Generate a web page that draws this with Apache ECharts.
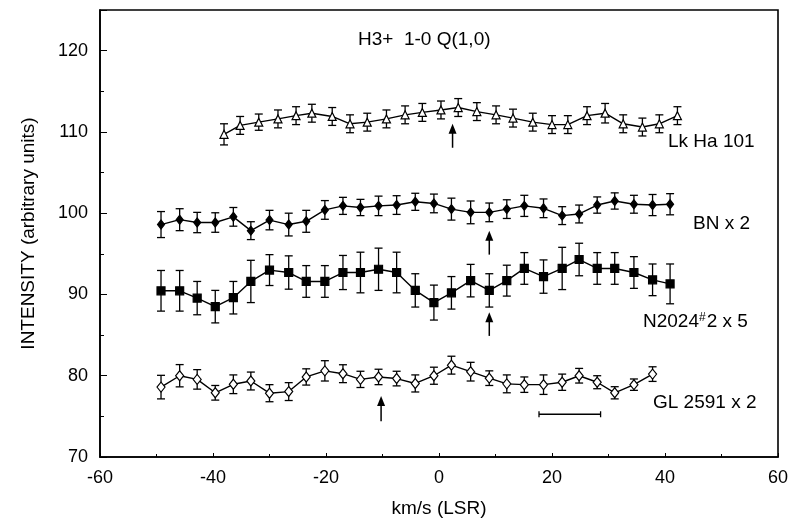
<!DOCTYPE html>
<html>
<head>
<meta charset="utf-8">
<script src="https://cdn.jsdelivr.net/npm/echarts@6/dist/echarts.min.js"></script>
<style>html,body{margin:0;padding:0;background:#fff}#c{width:794px;height:526px}</style>
</head>
<body>
<div id="c"></div>
<script>
// ---------- data ----------
const xTicks = [-60, -40, -20, 0, 20, 40, 60];
const yTicks = [70, 80, 90, 100, 110, 120];

const lkX = [-38.05,-35.2,-31.9,-28.5,-25.3,-22.5,-18.9,-15.75,-12.7,-9.3,-6.0,-2.95,0.35,3.4,6.7,10.1,13.1,16.6,20.0,22.8,26.2,29.4,32.6,36.0,39.0,42.2];
const lkY = [109.7,110.8,111.2,111.6,112.0,112.3,111.9,111.0,111.2,111.6,112.1,112.4,112.7,113.0,112.5,112.1,111.7,111.2,110.9,110.9,112.0,112.3,111.0,110.6,111.0,112.0];
const lkE = [1.3,1.1,1.0,1.1,1.1,1.1,1.1,1.1,1.1,1.1,1.1,1.1,1.1,1.1,1.1,1.1,1.1,1.1,1.1,1.1,1.1,1.2,1.1,1.1,1.1,1.1];

const gridX = [-49.2,-45.9,-42.8,-39.6,-36.4,-33.3,-30.0,-26.6,-23.5,-20.2,-17.0,-13.9,-10.7,-7.5,-4.2,-0.9,2.2,5.6,8.9,12.0,15.1,18.5,21.8,24.8,28.0,31.1,34.5,37.8,40.9];

const bnY = [98.6,99.2,98.85,98.85,99.55,97.85,99.15,98.6,99.0,100.4,100.9,100.7,100.9,101.0,101.4,101.2,100.5,100.1,100.1,100.5,100.9,100.6,99.7,99.9,101.0,101.5,101.1,101.0,101.1];
const bnE = [1.6,1.35,1.25,1.2,1.15,1.1,1.2,1.4,1.35,1.15,1.05,1.0,1.2,1.15,1.05,1.15,1.35,1.4,1.15,1.15,1.3,1.15,1.1,1.1,1.0,1.0,1.1,1.3,1.3];

const ngY = [90.45,90.45,89.55,88.5,89.6,91.6,93.0,92.7,91.6,91.6,92.7,92.7,93.1,92.7,90.5,89.0,90.2,91.7,90.5,91.7,93.2,92.2,93.2,94.3,93.2,93.2,92.7,91.8,91.3];
const ngE = [2.5,2.5,2.05,2.0,2.0,2.6,1.9,2.05,1.95,1.95,2.1,2.5,2.6,2.5,2.05,2.15,2.0,2.0,2.05,1.9,1.95,2.05,2.6,2.0,1.95,1.95,1.95,1.95,2.45];

const glX = gridX.slice(0, 28);
const glY = [78.6,80.0,79.55,77.9,78.95,79.35,77.85,78.05,79.85,80.6,80.25,79.55,79.85,79.65,79.05,80.0,81.3,80.5,79.7,79.0,78.9,78.9,79.2,80.0,79.2,77.9,78.9,80.2];
const glE = [1.45,1.37,1.2,0.9,1.15,1.1,1.05,1.1,1.0,1.25,1.1,1.0,0.95,0.9,1.05,1.05,1.1,1.15,0.9,1.1,0.95,1.2,1.0,0.9,0.8,0.75,0.7,0.9];

// arrows: [x, tail y, head y]
const arrows = [[2.4, 108.05, 111.0], [8.9, 94.9, 97.85], [8.9, 84.9, 87.8], [-10.25, 74.4, 77.5]];
// resolution bar: [x start, x end, y]
const resBar = [[17.7, 28.6, 75.26]];

const seriesNames = ['Lk Ha 101', 'BN x 2', 'N2024#2 x 5', 'GL 2591 x 2'];
const titleText = 'H3+  1-0 Q(1,0)';
const xName = 'km/s (LSR)';
const yName = 'INTENSITY (arbitrary units)';

// ---------- chart ----------
const FONT = '"Liberation Sans", Arial, sans-serif';
function zip(xs, ys, es) { return xs.map((x, i) => es ? [x, ys[i], es[i]] : [x, ys[i]]); }

function errRender(params, api) {
  const x = api.value(0), y = api.value(1), e = api.value(2);
  const p1 = api.coord([x, y + e]), p2 = api.coord([x, y - e]);
  const w = 4;
  const st = { stroke: '#000', lineWidth: 1.3 };
  return { type: 'group', children: [
    { type: 'line', shape: { x1: p1[0], y1: p1[1], x2: p2[0], y2: p2[1] }, style: st },
    { type: 'line', shape: { x1: p1[0] - w, y1: p1[1], x2: p1[0] + w, y2: p1[1] }, style: st },
    { type: 'line', shape: { x1: p2[0] - w, y1: p2[1], x2: p2[0] + w, y2: p2[1] }, style: st }
  ]};
}
function arrowRender(params, api) {
  const x = api.value(0), yt = api.value(1), yh = api.value(2);
  const t = api.coord([x, yt]), h = api.coord([x, yh]);
  return { type: 'group', children: [
    { type: 'line', shape: { x1: t[0], y1: t[1], x2: h[0], y2: h[1] + 6 }, style: { stroke: '#000', lineWidth: 1.5 } },
    { type: 'polygon', shape: { points: [[h[0], h[1]], [h[0] - 4, h[1] + 10], [h[0] + 4, h[1] + 10]] }, style: { fill: '#000' } }
  ]};
}
function barRender(params, api) {
  const a = api.coord([api.value(0), api.value(2)]), b = api.coord([api.value(1), api.value(2)]);
  const st = { stroke: '#000', lineWidth: 1.3 };
  return { type: 'group', children: [
    { type: 'line', shape: { x1: a[0], y1: a[1], x2: b[0], y2: b[1] }, style: st },
    { type: 'line', shape: { x1: a[0], y1: a[1] - 3, x2: a[0], y2: a[1] + 3 }, style: st },
    { type: 'line', shape: { x1: b[0], y1: b[1] - 3, x2: b[0], y2: b[1] + 3 }, style: st }
  ]};
}
function lineSeries(name, data, symbol, size, fill) {
  return { name, type: 'line', data, symbol, symbolSize: size, showAllSymbol: true, z: 5,
    lineStyle: { color: '#000', width: 1.4 },
    itemStyle: { color: fill, borderColor: '#000', borderWidth: 1.2 }, animation: false };
}
function errSeries(data) {
  return { type: 'custom', renderItem: errRender, data, z: 3, animation: false, encode: { x: 0, y: [1] } };
}

const chart = echarts.init(document.getElementById('c'), null, { renderer: 'canvas' });
chart.setOption({
  animation: false,
  backgroundColor: '#fff',
  textStyle: { fontFamily: FONT, color: '#000' },
  grid: { left: 100, right: 16, top: 10, bottom: 69, show: true, borderColor: '#000', borderWidth: 1.6 },
  xAxis: {
    type: 'value', min: xTicks[0], max: xTicks[xTicks.length - 1], interval: 20,
    name: xName, nameLocation: 'middle', nameGap: 42,
    nameTextStyle: { fontSize: 19, color: '#000', fontFamily: FONT },
    axisLine: { onZero: false, lineStyle: { color: '#000', width: 1.6 } },
    axisTick: { inside: true, length: 4, lineStyle: { color: '#000' } },
    minorTick: { show: true, splitNumber: 2, length: 3, lineStyle: { color: '#000' } },
    splitLine: { show: false },
    axisLabel: { fontSize: 18, color: '#000', margin: 12, fontFamily: FONT }
  },
  yAxis: {
    type: 'value', min: yTicks[0], max: 125, interval: 10,
    name: yName, nameLocation: 'middle', nameGap: 62, nameRotate: 90,
    nameTextStyle: { fontSize: 19, color: '#000', fontFamily: FONT },
    axisLine: { onZero: false, lineStyle: { color: '#000', width: 1.6 } },
    axisTick: { inside: true, length: 7, lineStyle: { color: '#000' } },
    minorTick: { show: true, splitNumber: 2, length: 4, lineStyle: { color: '#000' } },
    splitLine: { show: false },
    axisLabel: { fontSize: 18, color: '#000', margin: 12, fontFamily: FONT, showMaxLabel: false,
      formatter: v => (yTicks.indexOf(v) >= 0 ? String(v) : '') }
  },
  graphic: [
    { type: 'text', left: 358, top: 30, style: { text: titleText, font: '19px ' + FONT, fill: '#000' } },
    { type: 'text', left: 668, top: 132, style: { text: seriesNames[0], font: '19px ' + FONT, fill: '#000' } },
    { type: 'text', left: 693, top: 214, style: { text: seriesNames[1], font: '19px ' + FONT, fill: '#000' } },
    { type: 'text', left: 643, top: 312, style: {
        text: '{a|N2024}{s|#}{a|2 x 5}',
        rich: { a: { fontSize: 19, fontFamily: FONT, fill: '#000', color: '#000' },
                s: { fontSize: 12, fontFamily: FONT, color: '#000', verticalAlign: 'top', padding: [0, 1, 6, 0] } } } },
    { type: 'text', left: 653, top: 393, style: { text: seriesNames[3], font: '19px ' + FONT, fill: '#000' } }
  ],
  series: [
    errSeries(zip(lkX, lkY, lkE)),
    lineSeries(seriesNames[0], zip(lkX, lkY), 'triangle', 8, '#fff'),
    errSeries(zip(gridX, bnY, bnE)),
    lineSeries(seriesNames[1], zip(gridX, bnY), 'diamond', [7, 9], '#000'),
    errSeries(zip(gridX, ngY, ngE)),
    lineSeries(seriesNames[2], zip(gridX, ngY), 'rect', 8, '#000'),
    errSeries(zip(glX, glY, glE)),
    lineSeries(seriesNames[3], zip(glX, glY), 'diamond', [8, 10], '#fff'),
    { type: 'custom', renderItem: arrowRender, data: arrows, z: 4, animation: false, encode: { x: 0, y: [1, 2] } },
    { type: 'custom', renderItem: barRender, data: resBar, z: 4, animation: false, encode: { x: [0, 1], y: 2 } }
  ]
});
</script>
</body>
</html>
